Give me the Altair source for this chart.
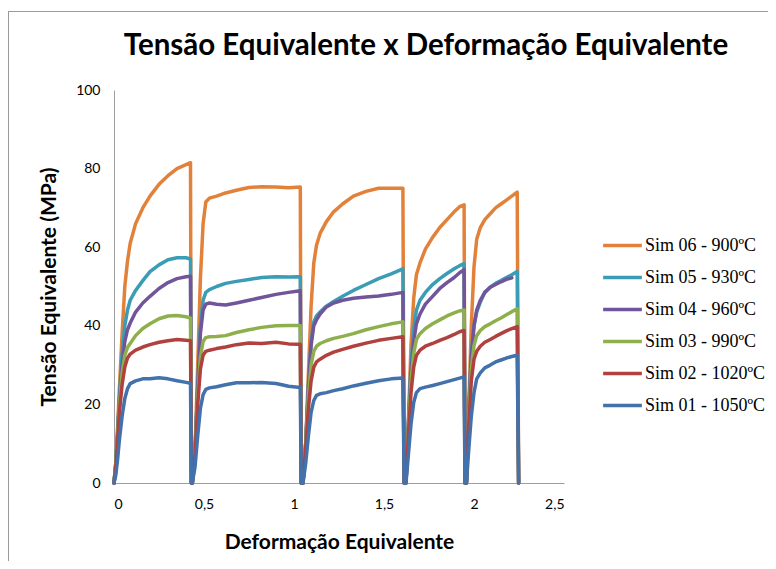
import altair as alt
import pandas as pd

# strain grids for each pass (shared by all series)
p1_x = [0.0, 0.01, 0.02, 0.03, 0.045, 0.06, 0.075, 0.09, 0.12, 0.16, 0.2, 0.25, 0.3, 0.35, 0.4, 0.425, 0.43]
p2_x = [0.435, 0.45, 0.465, 0.48, 0.495, 0.51, 0.53, 0.57, 0.62, 0.68, 0.75, 0.82, 0.9, 0.97, 1.035, 1.04]
p3_x = [1.05, 1.065, 1.08, 1.095, 1.11, 1.125, 1.145, 1.18, 1.22, 1.27, 1.33, 1.4, 1.47, 1.54, 1.605, 1.612]
p4_x = [1.622, 1.635, 1.65, 1.665, 1.68, 1.7, 1.73, 1.77, 1.81, 1.85, 1.89, 1.92, 1.945, 1.95]
p5_x = [1.958, 1.97, 1.985, 2.0, 2.015, 2.035, 2.06, 2.09, 2.12, 2.15, 2.18, 2.21, 2.24, 2.248]

series_names = ["Sim 06 - 900ºC", "Sim 05 - 930ºC", "Sim 04 - 960ºC",
                "Sim 03 - 990ºC", "Sim 02 - 1020ºC", "Sim 01 - 1050ºC"]
series_colors = ["#E2823A", "#3A9CB5", "#71559B", "#8EB04C", "#B0413E", "#4271AC"]

sim06 = [
    [0, 5, 14, 24, 38, 50, 56.5, 61, 66, 70, 73, 76, 78.2, 80, 81, 81.5, 0],
    [0, 8, 30, 52, 66, 71.5, 72.5, 73, 73.8, 74.5, 75.2, 75.4, 75.3, 75.1, 75.3, 0],
    [0, 10, 28, 45, 56, 60.5, 63.5, 66.5, 69, 71, 73, 74.2, 75, 75, 75, 0],
    [0, 15, 35, 47, 53, 56, 59.5, 62.5, 65, 67, 69, 70.3, 70.8, 0],
    [0, 18, 40, 55, 62, 65, 67, 68.5, 70, 71, 72, 73, 74, 0],
]
sim05 = [
    [0, 5, 13, 22, 33, 40, 44, 46.5, 49, 51.5, 53.8, 55.5, 56.8, 57.3, 57.3, 57, 0],
    [0, 8, 25, 40, 46.5, 48.5, 49.2, 50, 50.8, 51.3, 51.8, 52.3, 52.5, 52.4, 52.5, 0],
    [0, 10, 25, 36, 41, 42.5, 43.5, 45, 46.2, 47.5, 49, 50.5, 52, 53.2, 54.5, 0],
    [0, 15, 30, 39, 44, 46.5, 48.5, 50.5, 52, 53.3, 54.5, 55.3, 55.8, 0],
    [0, 18, 33, 40, 43.5, 46, 48.5, 49.8, 50.8, 51.5, 52.3, 53, 53.8, 0],
]
sim04 = [
    [0, 5, 12, 21, 30, 36, 39, 40.7, 43.5, 45.8, 47.5, 49.5, 51, 52, 52.5, 52.6, 0],
    [0, 8, 24, 38, 44, 45.5, 45.8, 45.5, 45.3, 45.8, 46.5, 47.2, 48, 48.5, 48.9, 0],
    [0, 10, 24, 35, 40, 41.5, 43, 44.8, 45.8, 46.5, 47, 47.3, 47.6, 48, 48.5, 0],
    [0, 14, 28, 36, 40.5, 43, 45.5, 47.5, 49.5, 51, 52.3, 53.5, 54.3, 0],
    [0, 17, 32, 40, 44, 46.5, 48.5, 49.8, 50.5, 51.2, 51.8, 52.2],
]
sim03 = [
    [0, 5, 12, 20, 28, 32.5, 34.5, 35.5, 37.5, 39.3, 40.5, 41.8, 42.5, 42.6, 42.3, 42, 0],
    [0, 8, 22, 32, 36, 37, 37.2, 37.3, 37.5, 38.3, 39, 39.6, 40, 40.1, 40.1, 0],
    [0, 10, 22, 30, 33.5, 34.8, 35.5, 36.2, 36.8, 37.3, 38, 39, 39.8, 40.5, 41, 0],
    [0, 14, 26, 33, 36.5, 38, 39.3, 40.5, 41.5, 42.5, 43.3, 43.8, 44, 0],
    [0, 16, 29, 35, 37.5, 38.8, 39.8, 40.5, 41.3, 42, 42.8, 43.6, 44.3, 0],
]
sim02 = [
    [0, 4, 11, 18, 25, 29.5, 31.8, 32.8, 33.8, 34.6, 35.2, 35.8, 36.2, 36.5, 36.3, 36.2, 0],
    [0, 7, 20, 29, 32.5, 33.5, 33.8, 34.2, 34.6, 35.2, 35.6, 35.5, 35.8, 35.4, 35.3, 0],
    [0, 9, 19, 26, 29.5, 30.8, 31.5, 32.5, 33.3, 34, 34.8, 35.6, 36.3, 36.8, 37.2, 0],
    [0, 12, 23, 29.5, 32.5, 33.8, 34.8, 35.5, 36.3, 37, 37.8, 38.5, 38.8, 0],
    [0, 14, 26, 31.5, 33.5, 34.8, 35.8, 36.5, 37.3, 38, 38.7, 39.3, 39.8, 0],
]
sim01 = [
    [0, 2, 6, 11, 17, 21.5, 24, 25.3, 26, 26.5, 26.5, 26.8, 26.5, 26, 25.6, 25.4, 0],
    [0, 4, 12, 19, 22.5, 23.8, 24.2, 24.5, 25, 25.5, 25.5, 25.6, 25.3, 24.6, 24.3, 0],
    [0, 5, 12, 18, 21, 22.3, 22.7, 23, 23.5, 24, 24.7, 25.4, 26, 26.5, 26.7, 0],
    [0, 7, 15, 20.5, 23, 24, 24.4, 24.8, 25.3, 25.8, 26.3, 26.7, 27, 0],
    [0, 8, 17, 23, 26.5, 28, 29.3, 30, 30.8, 31.3, 31.8, 32.2, 32.5, 0],
]

grids = [p1_x, p2_x, p3_x, p4_x, p5_x]
all_series = [sim06, sim05, sim04, sim03, sim02, sim01]

rows = []
for name, passes in zip(series_names, all_series):
    idx = 0
    for gx, gy in zip(grids, passes):
        for xv, yv in zip(gx, gy):
            rows.append({"serie": name, "def": xv, "tensao": yv, "idx": idx})
            idx += 1
df = pd.DataFrame(rows)

lines = alt.Chart(df).mark_line(strokeWidth=3.5, strokeJoin="round", strokeCap="round").encode(
    x=alt.X("def:Q", scale=alt.Scale(domain=[0, 2.5], nice=False),
            axis=alt.Axis(values=[0, 0.5, 1, 1.5, 2, 2.5],
                          labelExpr="replace(toString(datum.value), '.', ',')",
                          title="Deformação Equivalente", titlePadding=20)),
    y=alt.Y("tensao:Q", scale=alt.Scale(domain=[0, 100], nice=False),
            axis=alt.Axis(values=[0, 20, 40, 60, 80, 100],
                          title="Tensão Equivalente (MPa)", titlePadding=16)),
    color=alt.Color("serie:N",
                    scale=alt.Scale(domain=series_names, range=series_colors),
                    legend=alt.Legend(title=None, orient="none", legendX=487, legendY=134,
                                      symbolType="stroke", symbolStrokeWidth=3.5, symbolSize=1500,
                                      labelFont="Liberation Serif", labelFontSize=18,
                                      labelColor="black", labelOffset=1, rowPadding=1)),
    detail="serie:N",
    order=alt.Order("idx:Q"),
)

border = alt.Chart(df).mark_rect(fill=None, stroke="#9A9A9A", strokeWidth=1).encode(
    x=alt.value(-105.5), x2=alt.value(700), y=alt.value(-78.5), y2=alt.value(600)
)

chart = alt.layer(border, lines).properties(
    width=450, height=393,
    padding={"left": 106, "top": 82, "right": 204, "bottom": 78},
    autosize=alt.AutoSizeParams(type="none"),
    title=alt.Title("Tensão Equivalente x Deformação Equivalente", font="Lato",
                    fontSize=29.5, fontWeight="bold", color="black", anchor="middle",
                    frame="group", dx=87, offset=-50),
).configure_view(stroke=None).configure_axis(
    grid=False, ticks=False, domainColor="#9E9E9E", domainWidth=1,
    labelFont="Lato", labelFontSize=14, labelColor="black", labelPadding=14,
    titleFont="Lato", titleFontSize=21, titleFontWeight="bold", titleColor="black",
)

chart.save("out.html", embed_options={"renderer": "svg", "actions": False})
